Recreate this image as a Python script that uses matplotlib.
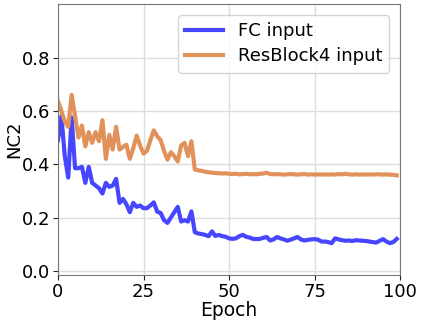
import numpy as np
import matplotlib
matplotlib.use("Agg")
import matplotlib.pyplot as plt

epochs = list(range(100))

fc_input = [0.49, 0.58, 0.43, 0.35, 0.575, 0.385, 0.385, 0.39, 0.33, 0.39,
            0.33, 0.32, 0.31, 0.29, 0.33, 0.315, 0.32, 0.345, 0.255, 0.27,
            0.25, 0.22, 0.255, 0.24, 0.245, 0.235, 0.235, 0.245, 0.257, 0.222,
            0.217, 0.19, 0.18, 0.2, 0.22, 0.24, 0.185, 0.19, 0.185, 0.223,
            0.145, 0.14, 0.138, 0.135, 0.13, 0.148, 0.131, 0.135, 0.13, 0.128,
            0.122, 0.12, 0.122, 0.13, 0.135, 0.128, 0.125, 0.12, 0.119, 0.12,
            0.124, 0.127, 0.114, 0.118, 0.127, 0.122, 0.118, 0.113, 0.117, 0.122,
            0.127, 0.118, 0.114, 0.116, 0.118, 0.119, 0.117, 0.11, 0.11, 0.108,
            0.104, 0.122, 0.118, 0.115, 0.113, 0.114, 0.112, 0.115, 0.114, 0.113,
            0.112, 0.11, 0.108, 0.106, 0.113, 0.119, 0.11, 0.104, 0.108, 0.12]

resblock4_input = [0.636, 0.6, 0.56, 0.54, 0.66, 0.58, 0.5, 0.545, 0.467, 0.52,
                   0.48, 0.52, 0.486, 0.565, 0.42, 0.51, 0.455, 0.54, 0.455, 0.465,
                   0.473, 0.42, 0.46, 0.507, 0.47, 0.44, 0.45, 0.49, 0.527, 0.505,
                   0.49, 0.45, 0.417, 0.445, 0.43, 0.41, 0.47, 0.48, 0.43, 0.486,
                   0.38, 0.377, 0.375, 0.372, 0.37, 0.368, 0.367, 0.366, 0.365, 0.366,
                   0.364, 0.363, 0.364, 0.362, 0.363, 0.364, 0.362, 0.363, 0.362, 0.364,
                   0.365, 0.368, 0.363, 0.362, 0.363, 0.362, 0.361, 0.362, 0.363, 0.362,
                   0.361, 0.362, 0.363, 0.361, 0.362, 0.361, 0.362, 0.361, 0.362, 0.361,
                   0.362, 0.361, 0.363, 0.362, 0.364, 0.362, 0.361, 0.362, 0.361, 0.362,
                   0.361, 0.362, 0.361, 0.362, 0.362, 0.361, 0.362, 0.361, 0.36, 0.358]

fig = plt.figure(figsize=(4.23, 3.23), dpi=100)
ax = fig.add_axes([0.137, 0.149, 0.809, 0.838])

ax.plot(epochs, fc_input, color='#4646ff', linewidth=3, label='FC input')
ax.plot(epochs, resblock4_input, color='#e0925a', linewidth=3, label='ResBlock4 input')

ax.set_xlim(0, 100)
ax.set_ylim(-0.015, 1.0)
ax.set_xticks([0, 25, 50, 75, 100])
ax.set_yticks([0.0, 0.2, 0.4, 0.6, 0.8])
ax.grid(True, color='#dddddd', linewidth=1)
ax.set_axisbelow(True)
for s in ax.spines.values():
    s.set_color('#777777')
ax.tick_params(labelsize=13, colors='#222222', labelcolor='black', pad=2)
ax.set_xlabel('Epoch', fontsize=13.5, labelpad=0)
ax.set_ylabel('NC2', fontsize=13)
ax.yaxis.set_label_coords(-0.10, 0.5)
ax.legend(loc='upper right', fontsize=13, handlelength=2.1, labelspacing=0.4,
          borderaxespad=0.6)

fig.savefig('out.png', dpi=100)
